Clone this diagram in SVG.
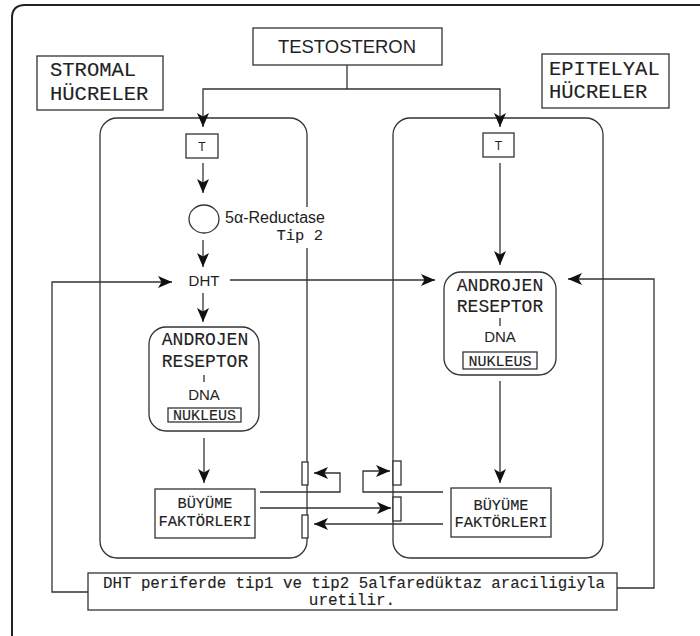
<svg xmlns="http://www.w3.org/2000/svg" width="700" height="636" viewBox="0 0 700 636">
<defs>
<marker id="ah" markerUnits="userSpaceOnUse" markerWidth="14" markerHeight="12" refX="14" refY="6" orient="auto"><path d="M0,0 L14,6 L0,12 L3.5,6 z" fill="#111"/></marker>
</defs>
<style>
.b{fill:none;stroke:#333;stroke-width:1.3}
.w{fill:#fff;stroke:#333;stroke-width:1.3}
.c{fill:none;stroke:#333;stroke-width:1.3}
.a{marker-end:url(#ah)}
.sans{font-family:"Liberation Sans",Arial,sans-serif;fill:#222}
.mono{font-family:"Liberation Mono","Courier New",monospace;fill:#222;stroke:#222;stroke-width:0.12}
.mid{text-anchor:middle}
</style>
<rect width="700" height="636" fill="#fff"/>
<path d="M12,636 V18 Q12,5 25,5 H700" fill="none" stroke="#222" stroke-width="2"/>

<g id="stromal-cell">
<rect class="b" x="100" y="118" width="207" height="440" rx="17"/>
<rect x="300" y="207" width="14" height="41" fill="#fff"/>
</g>
<g id="epitelyal-cell">
<rect class="b" x="393" y="118" width="210" height="440" rx="17"/>
</g>

<g id="connectors">
<path class="c" d="M347,65 V89"/>
<path class="c a" d="M347,89 H203 V127"/>
<path class="c a" d="M347,89 H500 V127"/>
<path class="c a" d="M203,163 V193"/>
<path class="c a" d="M203,240 V267"/>
<path class="c a" d="M203,293 V322"/>
<path class="c a" d="M204,438 V483"/>
<path class="c a" d="M500,163 V265"/>
<path class="c a" d="M500,381 V483"/>
<path class="c a" d="M230,280 H435"/>
<path class="c a" d="M88,592 H52 V282 H172"/>
<path class="c a" d="M617,588 H654 V279 H568"/>
<path class="c a" d="M260,492 H340 V473 H314"/>
<path class="c a" d="M260,508 H391"/>
<path class="c a" d="M443,492 H363 V471 H390"/>
<path class="c a" d="M443,524 H314"/>
</g>

<g id="testosteron">
<rect class="w" x="253" y="28" width="189" height="37"/>
<text class="sans mid" x="347" y="53" font-size="18" textLength="138" lengthAdjust="spacingAndGlyphs">TESTOSTERON</text>
</g>
<g id="stromal-label">
<rect class="w" x="37" y="56" width="126" height="54"/>
<text class="mono" x="50" y="76" font-size="20.5">STROMAL</text>
<text class="mono" x="50" y="100" font-size="20.5">HÜCRELER</text>
</g>
<g id="epitelyal-label">
<rect class="w" x="542" y="54" width="127" height="54"/>
<text class="mono" x="549" y="75" font-size="20.5">EPITELYAL</text>
<text class="mono" x="549" y="98" font-size="20.5">HÜCRELER</text>
</g>

<g id="t-left">
<rect class="w" x="186" y="134" width="32" height="24"/>
<text class="sans mid" x="202" y="151" font-size="12">T</text>
</g>
<g id="t-right">
<rect class="w" x="483" y="133" width="31" height="24"/>
<text class="sans mid" x="498.5" y="150" font-size="12">T</text>
</g>

<g id="reductase">
<ellipse class="w" cx="204" cy="219" rx="15" ry="14"/>
<text class="sans" x="225" y="223" font-size="16" textLength="100" lengthAdjust="spacingAndGlyphs">5α-Reductase</text>
<text class="mono" x="323" y="240" font-size="15.5" text-anchor="end">Tip 2</text>
</g>

<g id="dht">
<text class="sans mid" x="204" y="286" font-size="15">DHT</text>
</g>

<g id="receptor-left">
<rect class="w" x="149" y="327" width="110" height="104" rx="17"/>
<text class="mono mid" x="205" y="345" font-size="18">ANDROJEN</text>
<text class="mono mid" x="205" y="367" font-size="18">RESEPTOR</text>
<line class="c" x1="204" y1="375" x2="204" y2="382" stroke-width="1"/>
<text class="sans mid" x="204" y="400" font-size="15">DNA</text>
<rect class="w" x="168" y="408" width="73" height="14" stroke-width="1"/>
<text class="mono mid" x="204.5" y="420" font-size="15">NUKLEUS</text>
</g>

<g id="receptor-right">
<rect class="w" x="444" y="272" width="112" height="103" rx="17"/>
<text class="mono mid" x="500" y="291" font-size="18">ANDROJEN</text>
<text class="mono mid" x="500" y="312" font-size="18">RESEPTOR</text>
<line class="c" x1="500" y1="318" x2="500" y2="326" stroke-width="1"/>
<text class="sans mid" x="500" y="342" font-size="15">DNA</text>
<rect class="w" x="463" y="352" width="74" height="17" stroke-width="1"/>
<text class="mono mid" x="500" y="366" font-size="15">NUKLEUS</text>
</g>

<g id="gf-left">
<rect class="w" x="155" y="489" width="100" height="49"/>
<text class="mono mid" x="205" y="508" font-size="15.3">BÜYÜME</text>
<text class="mono mid" x="205" y="526" font-size="15.5" textLength="93" lengthAdjust="spacingAndGlyphs">FAKTÖRLERI</text>
</g>
<g id="gf-right">
<rect class="w" x="451" y="488" width="100" height="49"/>
<text class="mono mid" x="501" y="510" font-size="15.3">BÜYÜME</text>
<text class="mono mid" x="501" y="527" font-size="15.5" textLength="93" lengthAdjust="spacingAndGlyphs">FAKTÖRLERI</text>
</g>

<g id="receptors">
<rect class="w" x="302" y="462" width="6" height="23" stroke-width="1"/>
<rect class="w" x="302" y="515" width="6" height="23" stroke-width="1"/>
<rect class="w" x="393" y="461" width="8" height="24" stroke-width="1"/>
<rect class="w" x="393" y="497" width="8" height="24" stroke-width="1"/>
</g>

<g id="note">
<rect class="w" x="88" y="573" width="529" height="37"/>
<text class="mono mid" x="354" y="588" font-size="16" textLength="502" lengthAdjust="spacingAndGlyphs">DHT periferde tip1 ve tip2 5alfaredüktaz araciligiyla</text>
<text class="mono mid" x="352" y="605" font-size="16">uretilir.</text>
</g>
</svg>
